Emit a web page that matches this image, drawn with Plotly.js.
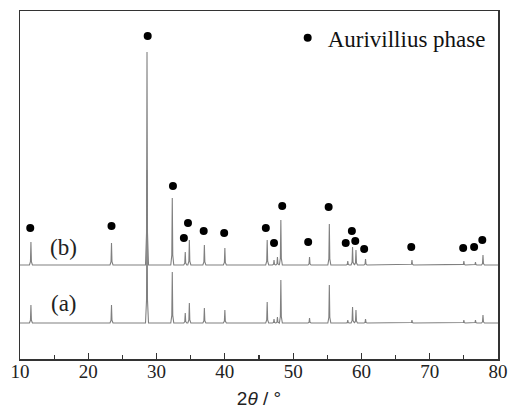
<!DOCTYPE html>
<html>
<head>
<meta charset="utf-8">
<script src="https://cdn.plot.ly/plotly-3.0.1.min.js"></script>
<style>html,body{margin:0;padding:0;background:#fff}#chart{width:509px;height:417px}</style>
</head>
<body>
<div id="chart"></div>
<script>
// Peak positions (2θ, degrees)
const peakPos = [11.6, 23.4, 28.6, 32.3, 34.2, 34.8, 37.0, 40.0, 46.2, 47.2, 47.7, 48.2, 52.4, 55.3, 58.0, 58.7, 59.2, 60.6, 67.4, 75.0, 76.7, 77.8];
// Peak heights above baseline, sample (a) and sample (b), arbitrary units
const heightA = [18, 18, 153, 51, 10, 20, 15, 13, 21, 4, 6, 43, 5, 38, 3, 16, 13, 4, 3, 3, 3, 8];
const heightB = [23, 22, 213, 67, 13, 25, 20, 17, 25, 5, 8, 45, 8, 41, 4, 18, 15, 6, 5, 4, 3, 10];
// Baselines (offsets) of the two patterns
const baseA = 36;
const baseB = 94;
// Aurivillius-phase markers (2θ, intensity position)
const markX = [11.5, 23.4, 28.7, 32.4, 34.0, 34.6, 36.9, 39.9, 46.0, 47.2, 48.4, 52.2, 55.2, 57.7, 58.6, 59.1, 60.4, 67.3, 74.9, 76.5, 77.7];
const markY = [131, 133, 323, 173, 121, 136, 128, 126, 131, 116, 153, 117, 152, 116, 128, 118, 110, 112, 111, 112, 119];

function buildPattern(base, heights) {
  const xs = [10], ys = [base];
  const hw = 0.22;
  peakPos.forEach((p, i) => {
    xs.push(p - hw, p - 0.07, p, p + 0.07, p + hw);
    ys.push(base, base + heights[i] * 0.15, base + heights[i], base + heights[i] * 0.15, base);
  });
  xs.push(80); ys.push(base);
  return {xs, ys};
}

const pa = buildPattern(baseA, heightA);
const pb = buildPattern(baseB, heightB);

const lineStyle = {color: '#808080', width: 1.1};
const serif = 'Liberation Serif, Times New Roman, serif';

const data = [
  {x: pa.xs, y: pa.ys, mode: 'lines', line: lineStyle, showlegend: false, hoverinfo: 'skip'},
  {x: pb.xs, y: pb.ys, mode: 'lines', line: lineStyle, showlegend: false, hoverinfo: 'skip'},
  {x: markX, y: markY, mode: 'markers', name: 'Aurivillius phase',
   marker: {symbol: 'circle', size: 8, color: '#000'}, showlegend: true}
];

const layout = {
  width: 509, height: 417,
  margin: {l: 20, r: 11, t: 11, b: 58},
  paper_bgcolor: '#fff', plot_bgcolor: '#fff',
  showlegend: true,
  legend: {x: 0.56, y: 0.985, xanchor: 'left', yanchor: 'top', bgcolor: 'rgba(0,0,0,0)',
           font: {family: serif, size: 23, color: '#111'}, itemwidth: 30},
  xaxis: {
    range: [10, 80], dtick: 10, tick0: 10,
    ticks: 'inside', ticklen: 6, tickwidth: 1.2, tickcolor: '#333',
    minor: {dtick: 5, ticks: 'inside', ticklen: 4, tickwidth: 1.2, tickcolor: '#333'},
    showline: true, linecolor: '#333', linewidth: 1.5, mirror: true,
    showgrid: false, zeroline: false,
    ticklabelstandoff: -5,
    tickfont: {family: serif, size: 19, color: '#222'},
    title: {text: '2<i>θ</i> / °', font: {family: 'Liberation Sans, Arial, sans-serif', size: 19, color: '#222'}, standoff: 10}
  },
  yaxis: {
    range: [0, 348], showticklabels: false, ticks: '',
    showline: true, linecolor: '#333', linewidth: 1.5, mirror: true,
    showgrid: false, zeroline: false
  },
  annotations: [
    {x: 16.4, y: 112, xref: 'x', yref: 'y', text: '(b)', showarrow: false, font: {family: serif, size: 23, color: '#222'}},
    {x: 16.4, y: 56, xref: 'x', yref: 'y', text: '(a)', showarrow: false, font: {family: serif, size: 23, color: '#222'}}
  ]
};

Plotly.newPlot('chart', data, layout, {displayModeBar: false, staticPlot: true});
</script>
</body>
</html>
